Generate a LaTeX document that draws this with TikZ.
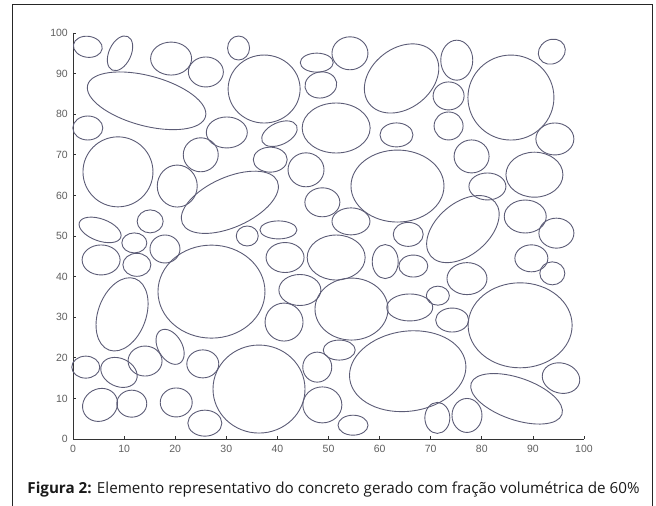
\documentclass[tikz,border=0pt]{standalone}
\usepackage{fontspec}
\setmainfont{Open Sans}
\setsansfont{Liberation Sans}

\definecolor{grainblue}{RGB}{92,92,118}
\definecolor{ticktext}{RGB}{95,95,95}

\tikzset{
    grain/.style={draw=grainblue, line width=0.9pt},
    axisline/.style={draw=black!80, line width=0.8pt},
    ticklabel/.style={font=\sffamily\fontsize{10.5}{10.5}\selectfont, text=ticktext, inner sep=1pt},
}

\begin{document}
\begin{tikzpicture}[x=1pt, y=1pt]
    \useasboundingbox (0,0) rectangle (656,506);

    % Frame
    \draw[line width=1pt, black!85] (12,-4) rectangle (652,501);

    \begin{scope}[shift={(73,67)}, x=5.11pt, y=4.06pt]
        % Axes
        \coordinate (origin) at (0,0);
        \coordinate (xend) at (100,0);
        \coordinate (yend) at (0,100);
        \draw[axisline] (yend) -- (origin) -- (xend);

        % Ticks and labels
        \foreach \t in {0,10,...,100} {
            \draw[axisline] (\t,0) -- ++(0,3pt);
            \draw[axisline] (0,\t) -- ++(3pt,0);
            \node[ticklabel, below=5pt] (xl\t) at (\t,0) {\t};
            \node[ticklabel, left=4pt] (yl\t) at (0,\t) {\t};
        }

        % Aggregates
        \foreach \cx/\cy/\a/\b/\r in {
            2.9/96.6/14.5/10.5/-8, 9.2/95.0/18.5/11/65, 19.2/93.7/20.5/16.5/0,
            26.0/90.4/17.5/15/0, 14.4/83.3/61/25/-15, 2.9/76.6/15/12/0,
            8.8/65.8/35/35/0, 20.4/62.3/20/21/0, 25.0/70.0/17.5/17/0,
            30.1/75.5/20.5/15.5/0, 40.4/75.2/19/11/25, 37.4/86.2/36/34/0,
            32.4/96.3/11/12/0, 38.6/68.8/17/12.5/0, 30.7/58.3/52/25/24,
            45.6/66.3/18/17/0, 48.8/58.3/17.5/14.5/0, 15.1/53.6/13/11.5/0,
            5.3/51.5/22/11/-20, 12.0/48.3/12.5/10/0, 34.1/50.0/11/10/0,
            40.2/51.5/18.5/9/0, 47.7/92.7/16.5/9.5/0, 48.5/87.2/16/13/10,
            54.2/95.0/18/16.5/0, 64.3/88.8/41/30/38, 51.5/76.6/34/25/0,
            63.3/74.9/16.5/12/0, 63.5/62.3/46.5/36/0, 54.4/53.6/19/13.5/0,
            65.6/50.4/15/12/0, 75.1/93.3/16/20/0, 85.7/84.1/43/42.5/0,
            93.7/95.4/14/12/30, 73.5/84.5/15.5/14/0, 73.5/77.1/14.5/14/0,
            94.3/73.9/19/16/0, 78.0/69.6/17.5/16.5/0, 90.3/65.1/28.5/22.5/0,
            81.1/62.2/18.5/13.5/0, 88.5/54.8/21/16.5/0, 94.6/50.7/17.5/15/0,
            76.3/51.7/42/26/40, 5.5/44.1/19/15/0, 12.5/42.9/14/11.5/0,
            18.0/46.8/15/14/0, 9.6/30.7/38/24/70, 27.1/36.3/53.5/46.5/0,
            19.0/22.7/19/12/-60, 14.1/19.2/17/15/0, 25.4/18.5/16/14/0,
            2.5/17.7/14/11/0, 9.0/16.4/19/14/-25, 5.3/8.4/18/16/30,
            11.5/8.7/15/13.5/0, 20.2/9.0/16/14.5/0, 25.8/3.9/17/13/0,
            36.4/12.3/46/44/0, 41.5/44.7/19/15/0, 51.5/44.7/29/22.5/0,
            44.4/36.7/21/15.5/0, 41.3/28.8/19/19/0, 54.5/32.0/36.5/31/0,
            61.1/43.7/13/17/0, 66.6/42.6/14.5/11/0, 65.9/32.4/23/13.5/0,
            52.1/21.9/16/10/0, 47.8/17.7/14.5/15/0, 48.8/8.4/19.5/18/0,
            54.8/3.4/15/10/0, 65.5/16.7/58.5/40/8, 89.7/44.5/16.5/13.5/0,
            93.8/40.8/12.5/11.5/0, 77.1/39.5/20/16/0, 71.4/35.3/11.5/9.5/0,
            74.2/29.3/16.5/12/0, 87.5/28.0/52/42.5/0, 95.5/15.0/19/15/-15,
            86.8/9.9/48/21/-19, 71.3/5.2/12.5/15.5/0, 77.1/5.8/15/17/0}
            \draw[grain, rotate around={\r:(\cx,\cy)}] (\cx,\cy) ellipse [x radius=\a pt, y radius=\b pt];
    \end{scope}

    % Caption
    \node[anchor=base, inner sep=0pt, text=black!90, font=\fontsize{15.2}{18}\selectfont] (caption) at (333.5,12.5)
        {\textbf{Figura 2:} Elemento representativo do concreto gerado com fração volumétrica de 60\%};
\end{tikzpicture}
\end{document}
